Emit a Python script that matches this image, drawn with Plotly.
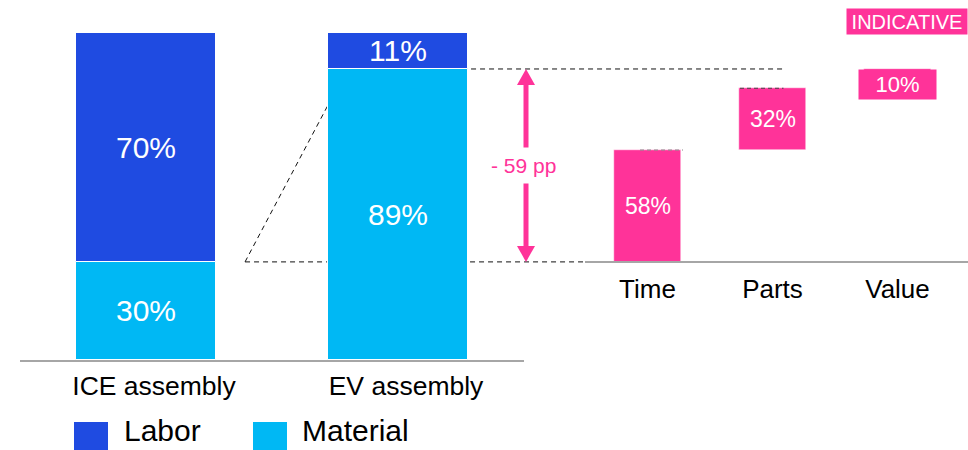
import plotly.graph_objects as go

# ---- data -------------------------------------------------------------
assemblies = ["ICE assembly", "EV assembly"]
labor = [70, 11]        # labor share of assembly cost, %
material = [30, 89]     # material share of assembly cost, %

drivers = ["Time", "Parts", "Value"]
driver_share = [58, 32, 10]   # contribution to the labor-share drop, %

series_names = ["Labor", "Material"]
badge_text = "INDICATIVE"

# ---- derived values ---------------------------------------------------
drop = labor[0] - labor[1]                      # 59 pp
steps = [drop * s / 100 for s in driver_share]  # pp per driver
bases = [material[0] + sum(steps[:i]) for i in range(len(steps))]
top = bases[-1] + steps[-1]

# ---- style ------------------------------------------------------------
LABOR_C = "#1F4BE1"
MATERIAL_C = "#00B8F4"
PINK = "#FF3399"
AXIS_C = "#A6A6A6"
FONT = "Arial, Liberation Sans, sans-serif"

W, H = 968, 450
ML, MR, MT, MB = 20, 0, 33, 90
PW, PH = W - ML - MR, H - MT - MB

X1_DOM = [0, (524 - ML) / PW]
X1_RNG = [-0.5, 1.5]
X2_DOM = [(585 - ML) / PW, 1]
X2_RNG = [-0.5, 2.564]
W1, W2 = 0.556, 0.536


def px1(v):
    return X1_DOM[0] + (v - X1_RNG[0]) / (X1_RNG[1] - X1_RNG[0]) * (X1_DOM[1] - X1_DOM[0])


def px2(v):
    return X2_DOM[0] + (v - X2_RNG[0]) / (X2_RNG[1] - X2_RNG[0]) * (X2_DOM[1] - X2_DOM[0])


def py(pixel_y):
    return (H - MB - pixel_y) / PH


fig = go.Figure()

# stacked assembly bars
fig.add_trace(go.Bar(
    x=assemblies, y=material, width=W1, name=series_names[1],
    marker=dict(color=MATERIAL_C, line=dict(color="white", width=1)),
    xaxis="x", yaxis="y", showlegend=False, hoverinfo="skip"))
fig.add_trace(go.Bar(
    x=assemblies, y=labor, base=material, width=W1, name=series_names[0],
    marker=dict(color=LABOR_C, line=dict(color="white", width=1)),
    xaxis="x", yaxis="y", showlegend=False, hoverinfo="skip"))

# floating driver bars
fig.add_trace(go.Bar(
    x=drivers, y=steps, base=bases, width=W2,
    marker=dict(color=PINK, line=dict(color="white", width=0.5)),
    xaxis="x2", yaxis="y", showlegend=False, hoverinfo="skip"))

annotations = []
shapes = []

# segment labels
for i, name in enumerate(assemblies):
    for val, b in ((material[i], 0), (labor[i], material[i])):
        annotations.append(dict(
            x=name, y=b + val / 2, xref="x", yref="y", text=f"{val}%",
            showarrow=False, font=dict(size=30, color="white", family=FONT)))

for i, name in enumerate(drivers[:-1]):
    annotations.append(dict(
        x=name, y=bases[i] + steps[i] / 2, xref="x2", yref="y",
        text=f"{driver_share[i]}%", showarrow=False,
        font=dict(size=23, color="white", family=FONT)))

# small driver gets a label box
annotations.append(dict(
    x=drivers[-1], y=top, xref="x2", yref="y", yanchor="top",
    text=f"{driver_share[-1]}%", showarrow=False, bgcolor=PINK,
    width=75, height=27, borderpad=1,
    font=dict(size=22, color="white", family=FONT)))

# dashed guides
dash = dict(color="#111111", width=1, dash="5px,4px")
shapes.append(dict(type="line", xref="paper", yref="y",
                   x0=px1(1 + W1 / 2) + 3 / PW, x1=px2(1.088), y0=top, y1=top,
                   line=dash, layer="below"))
shapes.append(dict(type="line", xref="paper", yref="y",
                   x0=px1(0.393), x1=X2_DOM[0], y0=material[0], y1=material[0],
                   line=dash, layer="below"))
shapes.append(dict(type="line", xref="x", yref="y",
                   x0=0.393, x1=0.798, y0=material[0], y1=top,
                   line=dash, layer="below"))
shapes.append(dict(type="line", xref="x2", yref="y",
                   x0=-0.06, x1=0.284, y0=bases[1], y1=bases[1],
                   line=dict(color="#888888", width=1, dash="4px,3px"), layer="above"))
shapes.append(dict(type="line", xref="x2", yref="y",
                   x0=0.74, x1=1.088, y0=bases[2], y1=bases[2],
                   line=dict(color="#444444", width=1, dash="4px,3px"), layer="above"))

# double-headed arrow for the drop
ax = (526 - ML) / PW
shapes.append(dict(type="line", xref="paper", yref="y", x0=ax, x1=ax,
                   y0=material[0] + 3, y1=top - 3,
                   line=dict(color=PINK, width=5)))
shapes.append(dict(type="path", xref="paper", yref="y",
                   xsizemode="pixel", ysizemode="pixel", xanchor=ax, yanchor=top,
                   path="M-9,-16 L9,-16 L0,0 Z", fillcolor=PINK,
                   line=dict(width=0)))
shapes.append(dict(type="path", xref="paper", yref="y",
                   xsizemode="pixel", ysizemode="pixel", xanchor=ax,
                   yanchor=material[0],
                   path="M-9,16 L9,16 L0,0 Z", fillcolor=PINK,
                   line=dict(width=0)))
annotations.append(dict(
    x=(523 - ML) / PW, y=(material[0] + top) / 2, xref="paper", yref="y",
    text=f"- {drop} pp", showarrow=False, bgcolor="white", borderpad=6,
    font=dict(size=21, color=PINK, family=FONT)))

# legend
for i, (name, col) in enumerate(((series_names[0], LABOR_C),
                                 (series_names[1], MATERIAL_C))):
    x_sq = [74, 253][i]
    x_tx = [123, 301][i]
    shapes.append(dict(type="rect", xref="paper", yref="paper",
                       x0=(x_sq - ML) / PW, x1=(x_sq + 34 - ML) / PW,
                       y0=py(456), y1=py(422), fillcolor=col,
                       line=dict(width=0)))
    annotations.append(dict(
        x=(x_tx - ML) / PW, y=py(448), xref="paper", yref="paper",
        xanchor="left", yanchor="bottom", text=name, showarrow=False,
        borderpad=0, font=dict(size=30, color="#000000", family=FONT)))

# badge
annotations.append(dict(
    x=1, y=py(21.5), xref="paper", yref="paper", xanchor="right",
    yanchor="middle", text=badge_text, showarrow=False, bgcolor=PINK,
    width=118, height=23, borderpad=1,
    font=dict(size=20, color="white", family=FONT)))

fig.update_layout(
    width=W, height=H,
    margin=dict(l=ML, r=MR, t=MT, b=MB),
    paper_bgcolor="white", plot_bgcolor="white",
    barmode="overlay", bargap=0,
    font=dict(family=FONT, color="#000000"),
    xaxis=dict(domain=X1_DOM, range=X1_RNG, type="category",
               showline=True, linecolor=AXIS_C, linewidth=2,
               showgrid=False, zeroline=False, ticks="",
               tickfont=dict(size=26.5, color="#000000"),
               ticklabelstandoff=1, ticklabelshift=8, fixedrange=True),
    xaxis2=dict(domain=X2_DOM, range=X2_RNG, type="category",
                anchor="free", position=material[0] / 100,
                showline=True, linecolor=AXIS_C, linewidth=2,
                showgrid=False, zeroline=False, ticks="",
                tickfont=dict(size=26, color="#000000"),
                ticklabelstandoff=4, fixedrange=True),
    yaxis=dict(range=[0, 100], visible=False, fixedrange=True),
    annotations=annotations,
    shapes=shapes,
    showlegend=False,
)

fig.write_html("out.html")
